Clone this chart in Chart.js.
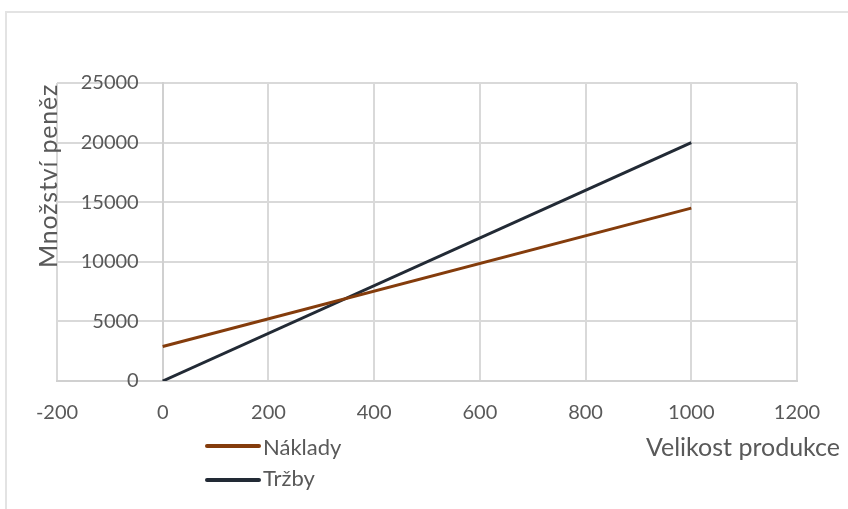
<!DOCTYPE html>
<html>
<head>
<meta charset="utf-8">
<script src="https://cdn.jsdelivr.net/npm/chart.js@4/dist/chart.umd.min.js"></script>
<style>
  html, body { margin: 0; padding: 0; background: #fff; }
  #wrap { position: relative; width: 848px; height: 509px; overflow: hidden; }
  #frame { position: absolute; left: 5px; top: 11px; width: 900px; height: 600px;
           border: 2px solid #e3e3e3; box-sizing: border-box; }
  #chart { position: absolute; left: 0; top: 0; }
</style>
</head>
<body>
<div id="wrap">
  <div id="frame"></div>
  <canvas id="chart" width="848" height="509"></canvas>
</div>
<script>
// Production volume (units) and money amounts for the break-even chart
const costQty = [0, 1000];
const costValues = [2900, 14500];      // Náklady
const revenueQty = [0, 1000];
const revenueValues = [0, 20000];      // Tržby

const xTicks = { min: -200, max: 1200, step: 200 };
const yTicks = { min: 0, max: 25000, step: 5000 };

const seriesNames = ['Náklady', 'Tržby'];
const seriesColors = ['#843C0C', '#222A35'];
const xTitle = 'Velikost produkce';
const yTitle = 'Množství peněz';

const textColor = '#595959';
const fontFamily = 'Lato, "Open Sans", sans-serif';

const toPoints = (xs, ys) => xs.map((x, i) => ({ x, y: ys[i] }));

// Value labels beside the vertical axis, axis titles and a stacked legend
const decorations = {
  id: 'decorations',
  afterDraw(chart) {
    const ctx = chart.ctx;
    const yScale = chart.scales.y;
    const xScale = chart.scales.x;
    ctx.save();
    ctx.fillStyle = textColor;

    // y tick labels, right-aligned a little left of the x = 0 axis
    ctx.font = '20px ' + fontFamily;
    ctx.textAlign = 'right';
    ctx.textBaseline = 'middle';
    const axisX = xScale.getPixelForValue(0);
    yScale.ticks.forEach(t => {
      ctx.fillText(String(t.value), axisX - 24, yScale.getPixelForValue(t.value));
    });

    // x axis title
    ctx.font = '25px ' + fontFamily;
    ctx.textBaseline = 'alphabetic';
    ctx.textAlign = 'right';
    ctx.fillText(xTitle, 840, 456);

    // y axis title, rotated
    ctx.save();
    ctx.translate(57, 176);
    ctx.rotate(-Math.PI / 2);
    ctx.textAlign = 'center';
    ctx.font = '25px ' + fontFamily;
    if ('letterSpacing' in ctx) ctx.letterSpacing = '0.8px';
    ctx.fillText(yTitle, 0, 0);
    ctx.restore();

    // legend: one entry per row
    ctx.font = '22px ' + fontFamily;
    ctx.textAlign = 'left';
    ctx.textBaseline = 'alphabetic';
    const rows = [{ line: 446, base: 455 }, { line: 480, base: 486 }];
    chart.data.datasets.forEach((ds, i) => {
      const r = rows[i];
      ctx.strokeStyle = ds.borderColor;
      ctx.lineWidth = 4;
      ctx.lineCap = 'round';
      ctx.beginPath();
      ctx.moveTo(207, r.line);
      ctx.lineTo(259, r.line);
      ctx.stroke();
      ctx.fillText(ds.label, 263, r.base);
    });
    ctx.restore();
  }
};

new Chart(document.getElementById('chart'), {
  type: 'line',
  data: {
    datasets: [
      { label: seriesNames[0], data: toPoints(costQty, costValues),
        borderColor: seriesColors[0], backgroundColor: seriesColors[0], borderWidth: 3,
        pointRadius: 0, tension: 0 },
      { label: seriesNames[1], data: toPoints(revenueQty, revenueValues),
        borderColor: seriesColors[1], backgroundColor: seriesColors[1], borderWidth: 3,
        pointRadius: 0, tension: 0 }
    ]
  },
  options: {
    responsive: false,
    animation: false,
    layout: { padding: { left: 57, right: 51, top: 83, bottom: 83 } },
    plugins: { legend: { display: false }, tooltip: { enabled: false } },
    scales: {
      x: {
        type: 'linear',
        min: xTicks.min, max: xTicks.max,
        afterFit(scale) { scale.height = 45; },
        ticks: { stepSize: xTicks.step, color: textColor, padding: 20,
                 callback: v => String(v),
                 font: { family: fontFamily, size: 20 } },
        grid: { color: '#d9d9d9', lineWidth: 2, drawTicks: false },
        border: { color: '#d0d0d0', width: 2 }
      },
      y: {
        type: 'linear',
        position: { x: 0 },
        min: yTicks.min, max: yTicks.max,
        ticks: { stepSize: yTicks.step, display: false },
        grid: { color: '#d9d9d9', lineWidth: 2, drawTicks: false },
        border: { color: '#d0d0d0', width: 2 }
      }
    }
  },
  plugins: [decorations]
});
</script>
</body>
</html>
